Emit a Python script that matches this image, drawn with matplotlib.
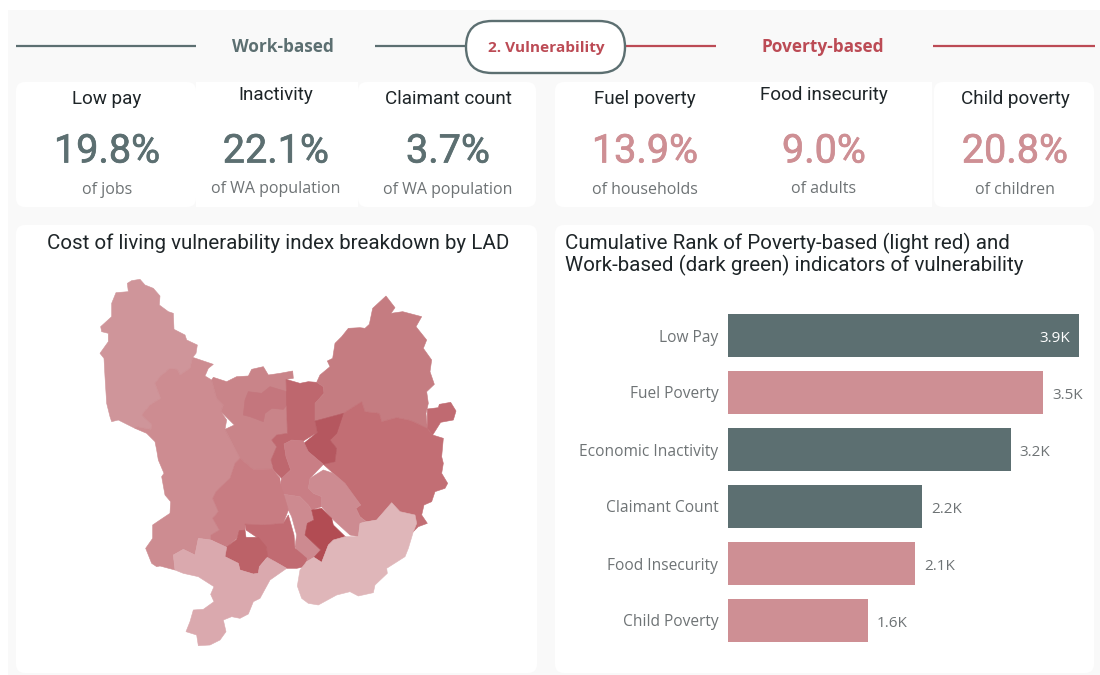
import matplotlib
matplotlib.use('Agg')
import matplotlib.pyplot as plt
import matplotlib.patheffects as pe
from matplotlib.patches import FancyBboxPatch, Polygon, Rectangle

GREEN = '#5C6F71'
PINK = '#CE8F94'
RED = '#BC4B55'
GREY = '#6E7375'
INK = '#1E2528'

# KPI cards
work_titles = ['Low pay', 'Inactivity', 'Claimant count']
work_values = ['19.8%', '22.1%', '3.7%']
work_units = ['of jobs', 'of WA population', 'of WA population']
poverty_titles = ['Fuel poverty', 'Food insecurity', 'Child poverty']
poverty_values = ['13.9%', '9.0%', '20.8%']
poverty_units = ['of households', 'of adults', 'of children']

# bar chart, values in thousands
bar_labels = ['Low Pay', 'Fuel Poverty', 'Economic Inactivity', 'Claimant Count', 'Food Insecurity', 'Child Poverty']
bar_values = [3.9, 3.5, 3.14, 2.16, 2.08, 1.55]
bar_text = ['3.9K', '3.5K', '3.2K', '2.2K', '2.1K', '1.6K']
bar_types = ['work', 'poverty', 'work', 'work', 'poverty', 'poverty']

# LAD outlines (3x crop units), with the shade of each one
lad_nw = [(142,40),(155,32),(180,28),(195,45),(220,55),(240,78),(238,105),(265,125),(280,130),(282,178),(315,195),(320,210),(352,225),(348,250),(338,262),(330,295),(300,315),(292,298),(270,295),(240,320),(225,340),(242,385),(210,405),(185,435),(215,463),(213,478),(170,470),(165,475),(115,450),(95,455),(90,440),(80,400),(75,320),(72,265),(60,250),(85,215),(85,190),(65,185),(62,170),(95,140),(95,100),(108,68),(145,65)]
lad_w = [(338,262),(400,283),(385,295),(375,318),(395,330),(410,385),(430,405),(423,425),(440,450),(435,478),(480,565),(465,580),(450,625),(408,665),(398,685),(415,725),(398,745),(418,780),(393,795),(393,810),(355,805),(345,855),(310,838),(280,855),(285,900),(240,888),(230,890),(215,880),(197,835),(218,805),(218,765),(240,750),(270,730),(272,695),(255,675),(245,620),(252,610),(235,570),(230,540),(225,515),(200,490),(165,475),(170,470),(213,478),(215,463),(185,435),(210,405),(242,385),(225,340),(240,320),(270,295),(292,298),(300,315),(330,295)]
lad_n = [(395,330),(400,322),(440,335),(470,320),(505,318),(515,298),(550,290),(565,315),(600,310),(638,303),(640,325),(618,328),(622,490),(590,495),(575,510),(590,530),(573,570),(578,597),(520,598),(480,565),(435,478),(463,465),(423,425),(430,405),(410,385)]
lad_n_inner = [(505,365),(545,370),(570,350),(620,365),(625,400),(610,418),(575,415),(555,430),(550,455),(510,440),(490,435),(495,390)]
lad_strip = [(618,328),(660,340),(685,335),(710,337),(730,350),(732,370),(705,400),(705,453),(712,487),(670,513),(635,510),(612,522),(618,560),(632,600),(605,625),(580,600),(573,570),(590,530),(575,510),(590,495),(622,490)]
lad_ne = [(918,78),(945,113),(933,130),(968,125),(1025,140),(1008,170),(1040,210),(1030,235),(1055,270),(1050,305),(1063,343),(1040,365),(1045,400),(1038,430),(1042,475),(1000,455),(985,450),(950,443),(905,455),(898,430),(855,425),(845,395),(790,430),(705,453),(705,400),(732,370),(730,350),(710,337),(720,315),(750,290),(742,273),(758,265),(765,220),(785,200),(805,175),(840,173),(855,175),(868,163),(878,115)]
lad_far_e = [(1042,417),(1075,413),(1078,403),(1112,397),(1128,423),(1120,450),(1082,457),(1058,495),(1042,475)]
lad_e = [(845,395),(855,425),(898,430),(905,455),(950,443),(985,450),(1000,455),(1042,475),(1058,495),(1090,505),(1085,560),(1090,580),(1085,610),(1103,640),(1095,655),(1065,665),(1055,695),(1032,705),(1025,735),(1042,760),(1015,770),(1000,785),(935,700),(890,750),(860,755),(840,740),(828,715),(842,705),(790,638),(760,610),(730,583),(765,575),(770,535),(750,510),(790,430)]
lad_dark = [(790,430),(770,490),(750,510),(770,535),(765,575),(730,583),(685,545),(668,523),(712,487),(705,453)]
lad_centre = [(612,522),(635,510),(670,513),(685,545),(730,583),(690,625),(685,655),(700,670),(725,680),(725,710),(695,720),(685,705),(660,680),(605,672),(598,650),(605,625),(632,600),(618,560)]
lad_se_strip = [(730,600),(760,610),(795,640),(842,705),(828,715),(840,740),(858,755),(840,760),(835,800),(810,795),(755,745),(725,710),(725,680),(700,670),(685,655),(690,625)]
lad_darkest = [(695,720),(725,715),(755,745),(760,765),(798,802),(745,825),(725,877),(702,862),(722,840),(675,795),(682,760),(702,750)]
lad_s_strip = [(605,672),(660,680),(685,705),(695,720),(702,750),(682,760),(675,795),(722,840),(702,862),(680,875),(660,860),(645,830),(650,795),(635,740),(620,710)]
lad_mid = [(465,580),(480,565),(520,598),(578,597),(600,625),(600,645),(610,670),(625,720),(610,760),(550,765),(495,762),(495,780),(478,785),(470,805),(440,832),(393,810),(393,795),(418,780),(398,745),(415,725),(398,685),(408,665),(450,625)]
lad_south = [(495,762),(550,765),(610,760),(625,735),(642,795),(645,835),(680,865),(675,890),(650,895),(620,895),(585,875),(560,865),(560,835),(535,805),(498,780)]
lad_sw_dark = [(478,782),(495,780),(498,802),(535,802),(560,832),(562,860),(538,890),(535,910),(520,912),(480,900),(475,880),(435,860),(435,835),(470,808)]
lad_light = [(355,805),(393,810),(440,832),(435,860),(475,880),(480,900),(520,912),(535,910),(538,890),(562,862),(585,875),(620,895),(570,930),(540,985),(520,995),(505,1032),(480,1045),(455,1040),(430,1050),(438,1085),(420,1110),(390,1125),(355,1127),(350,1095),(318,1085),(330,1055),(340,1020),(370,1018),(402,995),(392,973),(402,950),(355,920),(310,910),(285,900),(280,855),(310,838),(345,855)]
lad_lightest = [(935,698),(960,725),(1005,735),(1010,760),(1000,785),(985,835),(975,860),(920,895),(922,910),(885,945),(880,968),(835,978),(810,965),(770,975),(715,1005),(685,1000),(665,985),(652,948),(660,900),(680,875),(702,862),(725,877),(745,825),(760,810),(795,800),(835,800),(840,760),(860,755),(890,750)]

lads = [lad_nw, lad_w, lad_n, lad_n_inner, lad_strip, lad_ne, lad_far_e, lad_e, lad_dark, lad_centre,
        lad_se_strip, lad_s_strip, lad_darkest, lad_mid, lad_south, lad_sw_dark, lad_light, lad_lightest]
lad_colors = ['#CF959A', '#CD8C91', '#C98489', '#C4767D', '#BE676E', '#C57C81', '#C06A71', '#C26E74', '#B5575F', '#C97E85',
              '#CD8B91', '#CD8A90', '#B24C53', '#C87C82', '#C16B72', '#BC6268', '#DAA9AE', '#DFB6B9']

fig = plt.figure(figsize=(11, 6.75), dpi=100, facecolor='white')

# page axes in pixels, y going down
page = fig.add_axes([0, 0, 1, 1])
page.set_xlim(0, 1100)
page.set_ylim(675, 0)
page.axis('off')


def card(ax, x0, y0, x1, y1, r=9):
    ax.add_patch(FancyBboxPatch((x0 + r, y0 + r), x1 - x0 - 2*r, y1 - y0 - 2*r,
                                boxstyle=f'round,pad={r},rounding_size={r}',
                                fc='white', ec='none', zorder=1))


def kpi(ax, cx, title, value, unit, color, shift=0):
    ax.text(cx, 98.5 + shift, title, ha='center', va='center', fontsize=13.6, family='Roboto', color=INK, zorder=3)
    big = ax.text(cx, 151, value, ha='center', va='center', fontsize=28.5, family='Roboto', color=color, zorder=3)
    # regular Roboto is a bit thin next to the original numerals
    big.set_path_effects([pe.withStroke(linewidth=0.5, foreground=color)])
    ax.text(cx, 189.5 + shift*0.2, unit, ha='center', va='center', fontsize=11.5, family='Open Sans', color=GREY, zorder=3)


page.add_patch(Rectangle((8, 10), 1092, 665, fc='#F9F9F9', ec='none', zorder=0))

# header lines and pill
page.plot([16, 196], [46, 46], color=GREEN, lw=1.6, solid_capstyle='butt', zorder=1)
page.plot([375, 470], [46, 46], color=GREEN, lw=1.6, solid_capstyle='butt', zorder=1)
page.plot([625, 716], [46, 46], color=RED, lw=1.6, solid_capstyle='butt', zorder=1)
page.plot([933, 1095], [46, 46], color=RED, lw=1.6, solid_capstyle='butt', zorder=1)
page.text(283, 47, 'Work-based', ha='center', va='center', fontsize=12.4, fontweight='bold', family='Open Sans', color=GREEN)
page.text(823, 47, 'Poverty-based', ha='center', va='center', fontsize=12.4, fontweight='bold', family='Open Sans', color=RED)
page.add_patch(FancyBboxPatch((492, 47), 107, 0, boxstyle='round,pad=26,rounding_size=26',
                              fc='white', ec=GREEN, lw=1.7, zorder=2))
page.text(546, 48, '2. Vulnerability', ha='center', va='center', fontsize=11.1, fontweight='bold', family='Open Sans', color=RED, zorder=3)

# KPI cards
card(page, 16, 82, 196, 207)
page.add_patch(Rectangle((196, 82), 162, 125, fc='white', ec='none', zorder=1))
card(page, 358, 82, 536, 207)
card(page, 555, 82, 730, 207)
page.add_patch(Rectangle((720, 82), 212, 125, fc='white', ec='none', zorder=1))
card(page, 934, 82, 1094, 207)

work_cx = [107, 276, 448]
poverty_cx = [645, 824, 1015]
shifts = [0, -4, 0]
for i in range(3):
    kpi(page, work_cx[i], work_titles[i], work_values[i], work_units[i], GREEN, shifts[i])
    kpi(page, poverty_cx[i], poverty_titles[i], poverty_values[i], poverty_units[i], PINK, shifts[i])

# map panel
card(page, 16, 225, 537, 673)
page.text(278, 243, 'Cost of living vulnerability index breakdown by LAD', ha='center', va='center',
          fontsize=14.8, family='Roboto', color=INK, zorder=3)
for outline, shade in zip(lads, lad_colors):
    pts = [(80 + x/3, 270 + y/3) for x, y in outline]
    page.add_patch(Polygon(pts, closed=True, fc=shade, ec=shade, lw=0.4, zorder=2))

# bar panel
card(page, 555, 225, 1094, 673)
page.text(565, 243, 'Cumulative Rank of Poverty-based (light red) and', ha='left', va='center',
          fontsize=14.8, family='Roboto', color=INK, zorder=3)
page.text(565, 265, 'Work-based (dark green) indicators of vulnerability', ha='left', va='center',
          fontsize=14.8, family='Roboto', color=INK, zorder=3)

bars = fig.add_axes([728/1100, 1 - 649/675, (1094 - 728)/1100, 342/675])
bars.patch.set_alpha(0)
bar_colors = [GREEN if t == 'work' else PINK for t in bar_types]
bars.barh(range(6), bar_values, height=0.754, color=bar_colors)
bars.set_xlim(0, (1094 - 728)/90)
bars.set_ylim(5.5, -0.5)
for s in bars.spines.values():
    s.set_visible(False)
bars.set_xticks([])
bars.set_yticks(range(6))
bars.set_yticklabels(bar_labels, fontsize=11.2, family='Open Sans', color=GREY)
bars.tick_params(axis='y', length=0, pad=7)
for i, v in enumerate(bar_values):
    if i == 0:
        bars.text(v - 0.1, i + 0.05, bar_text[i], ha='right', va='center', fontsize=11, family='Open Sans', color='white')
    else:
        bars.text(v + 0.1, i + 0.05, bar_text[i], ha='left', va='center', fontsize=11, family='Open Sans', color=GREY)

fig.savefig('out.png', dpi=100)
